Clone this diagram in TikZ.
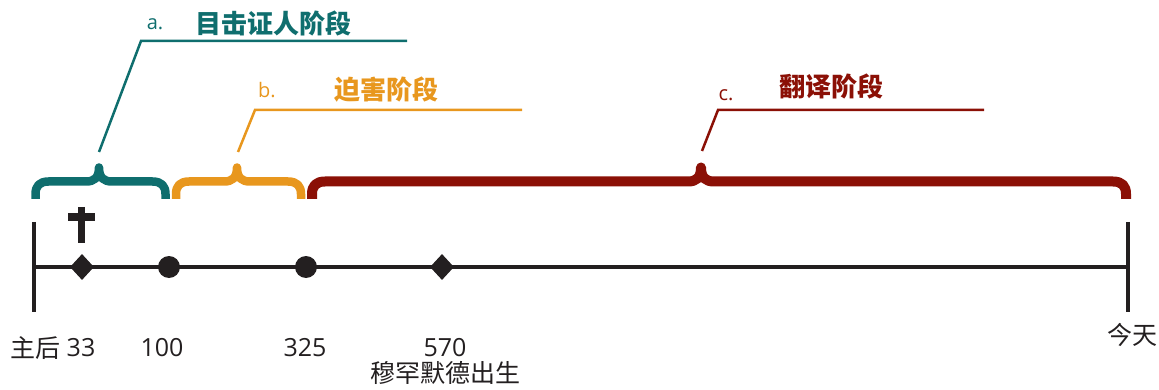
\documentclass[tikz,border=0pt]{standalone}
\usepackage{fontspec}
\usetikzlibrary{shapes.geometric}
\newfontfamily\cjk{Noto Sans CJK SC}
\newfontfamily\lat{Open Sans}
\definecolor{ink}{HTML}{231F20}
\definecolor{tealc}{HTML}{0F6E6E}
\definecolor{orangec}{HTML}{E8971E}
\definecolor{redc}{HTML}{8B1006}
\newcommand\tlbrace[5]{%
 \draw[#1, line width=#5, line join=round] (#2,199) -- (#2,194)
   .. controls (#2,186) and ({#2+4},181.5) .. ({#2+13},181.5) -- ({#3-13},181.5)
   .. controls ({#3-5},181.5) and (#3,178) .. (#3,167.5)
   .. controls (#3,178) and ({#3+5},181.5) .. ({#3+13},181.5) -- ({#4-13},181.5)
   .. controls ({#4-4},181.5) and (#4,186) .. (#4,194) -- (#4,199);}
\begin{document}
\begin{tikzpicture}[x=1pt,y=-1pt,
  tl/.style={draw=ink, line width=4pt},
  tick/.style={draw=ink, line width=4.5pt},
  dmark/.style={diamond, fill=ink, minimum width=24pt, minimum height=26pt, inner sep=0pt},
  cmark/.style={circle, fill=ink, minimum size=22pt, inner sep=0pt},
  num/.style={text=ink, inner sep=0pt, font={\lat\fontsize{25}{25}\selectfont}},
  cjklab/.style={text=ink, inner sep=0pt, font={\cjk\fontsize{25}{25}\selectfont}},
  title/.style={inner sep=0pt, font={\cjk\bfseries\fontsize{26}{26}\selectfont}},
  letter/.style={inner sep=0pt, font={\lat\fontsize{20}{20}\selectfont}},
  leader/.style={line width=2.5pt}]
\useasboundingbox (0,0) rectangle (1159,390);
% timeline
\coordinate (L) at (34,267);
\coordinate (R) at (1128,267);
\coordinate (Lt) at (34,222); \coordinate (Lb) at (34,312);
\coordinate (Rt) at (1128,222); \coordinate (Rb) at (1128,312);
\draw[tl] (L) -- (R);
\draw[tick] (Lt) -- (Lb);
\draw[tick] (Rt) -- (Rb);
\node[dmark] (d33) at (82,267) {};
\node[cmark] (c100) at (169,267) {};
\node[cmark] (c325) at (306,267) {};
\node[dmark] (d570) at (442,267) {};
% cross
\coordinate (crt) at (81,207); \coordinate (crb) at (81,243);
\coordinate (crl) at (68,217.5); \coordinate (crr) at (95,217.5);
\draw[ink, line width=7pt] (crt) -- (crb);
\draw[ink, line width=8pt] (crl) -- (crr);
% labels
\node[cjklab] (ad) at (35,348) {主后};
\node[num] (n33) at (81,348) {33};
\node[num] (n100) at (162,348) {100};
\node[num] (n325) at (305,348) {325};
\node[num] (n570) at (445,348) {570};
\node[cjklab] (muh) at (445,373) {穆罕默德出生};
\node[cjklab] (today) at (1132,335) {今天};
% braces
\tlbrace{tealc}{35.5}{99}{165.5}{8.5pt}
\tlbrace{orangec}{176}{237}{301}{8.5pt}
\tlbrace{redc}{312}{701}{1126}{10pt}
% leaders
\coordinate (ta) at (99,152); \coordinate (tb) at (141,41); \coordinate (tc) at (407,41);
\coordinate (oa) at (238,152); \coordinate (ob) at (255,110); \coordinate (oc) at (522,110);
\coordinate (ra) at (702,151); \coordinate (rb) at (718,110); \coordinate (rc) at (984,110);
\draw[leader, tealc] (ta) -- (tb) -- (tc);
\draw[leader, orangec] (oa) -- (ob) -- (oc);
\draw[leader, redc] (ra) -- (rb) -- (rc);
% titles
\node[letter, text=tealc] (la) at (155,24) {a.};
\node[title, text=tealc] (ta1) at (273,23) {目击证人阶段};
\node[letter, text=orangec] (lb) at (267,90) {b.};
\node[title, text=orangec] (tb1) at (386,90) {迫害阶段};
\node[letter, text=redc] (lc) at (726,95) {c.};
\node[title, text=redc] (tc1) at (831,86) {翻译阶段};
\end{tikzpicture}
\end{document}
